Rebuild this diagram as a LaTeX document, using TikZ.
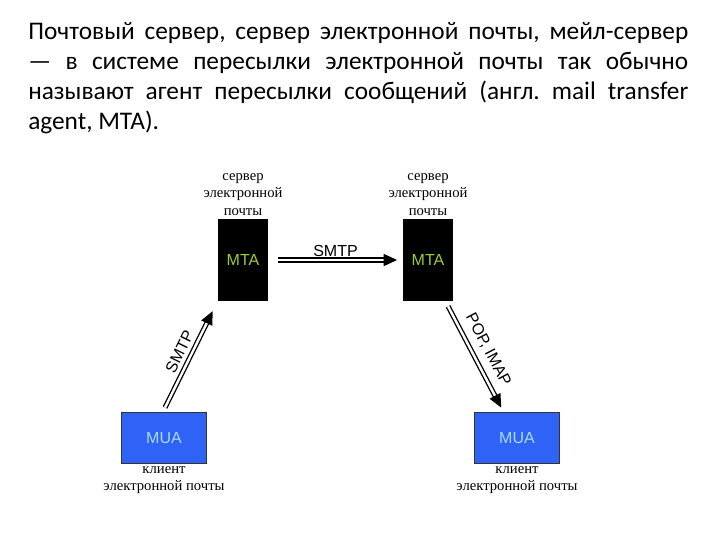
\documentclass[tikz,border=0pt]{standalone}
\usepackage{fontspec}
\setmainfont{Carlito}
\newfontfamily\capfont{Liberation Serif}
\newfontfamily\boxfont{Liberation Sans}
\usetikzlibrary{arrows.meta, positioning}
\definecolor{mtagreen}{HTML}{9ACD32}
\definecolor{muablue}{HTML}{2F63F5}
\definecolor{muatext}{HTML}{A8DCFF}
\tikzset{
  mtabox/.style={fill=black, minimum width=38pt, minimum height=62pt, inner sep=0pt,
    text=mtagreen, font=\boxfont\fontsize{12}{14}\selectfont},
  muabox/.style={fill=muablue, draw=black!80, line width=0.5pt, minimum width=64pt,
    minimum height=38pt, inner sep=0pt, text=muatext, font=\boxfont\fontsize{12}{14}\selectfont},
  caption/.style={align=center, font=\capfont\fontsize{11}{13}\selectfont, inner sep=1pt},
  proto/.style={font=\boxfont\fontsize{12}{14}\selectfont, inner sep=2pt},
  dbl/.style={double, double distance=1.8pt, line width=1pt,
    -{Triangle[length=10pt, width=9pt]}},
}
\frenchspacing
\begin{document}
\begin{tikzpicture}[x=0.75pt, y=-0.75pt]
  % page
  \path[use as bounding box, fill=white] (0,0) rectangle (720,540);

  % heading text
  \node[anchor=north west, inner sep=0pt, text width=495pt, align=justify,
    font=\fontsize{19}{22.5}\selectfont] (intro) at (28,22)
    {Почтовый сервер, сервер электронной почты, мейл-сервер\linebreak
     — в системе пересылки электронной почты так обычно\linebreak
     называют агент пересылки сообщений (англ. mail transfer\linebreak
     agent, MTA).};

  % servers
  \node[mtabox] (mta1) at (243,260) {MTA};
  \node[mtabox] (mta2) at (428,260) {MTA};
  \node[caption, above=1pt of mta1] (srv1) {сервер\\электронной\\почты};
  \node[caption, above=1pt of mta2] (srv2) {сервер\\электронной\\почты};

  % clients
  \node[muabox] (mua1) at (164,438) {MUA};
  \node[muabox] (mua2) at (517,438) {MUA};
  \node[caption, below=1pt of mua1] (cl1) {клиент\\электронной почты};
  \node[caption, below=1pt of mua2] (cl2) {клиент\\электронной почты};

  % transfers
  \draw[dbl, shorten <=7pt, shorten >=4pt] (mta1.east) -- (mta2.west)
    node[proto, midway, above] (smtp1) {SMTP};
  \draw[dbl, shorten <=4pt, shorten >=8pt] ([xshift=-1]mua1.north) -- (mta1.south west)
    node[proto, midway, above=2pt, sloped] (smtp2) {SMTP};
  \draw[dbl, shorten <=4pt, shorten >=4pt] ([xshift=-6]mta2.south east) -- ([xshift=-10]mua2.north)
    node[proto, midway, above=4pt, sloped] (pop) {POP, IMAP};
\end{tikzpicture}
\end{document}
